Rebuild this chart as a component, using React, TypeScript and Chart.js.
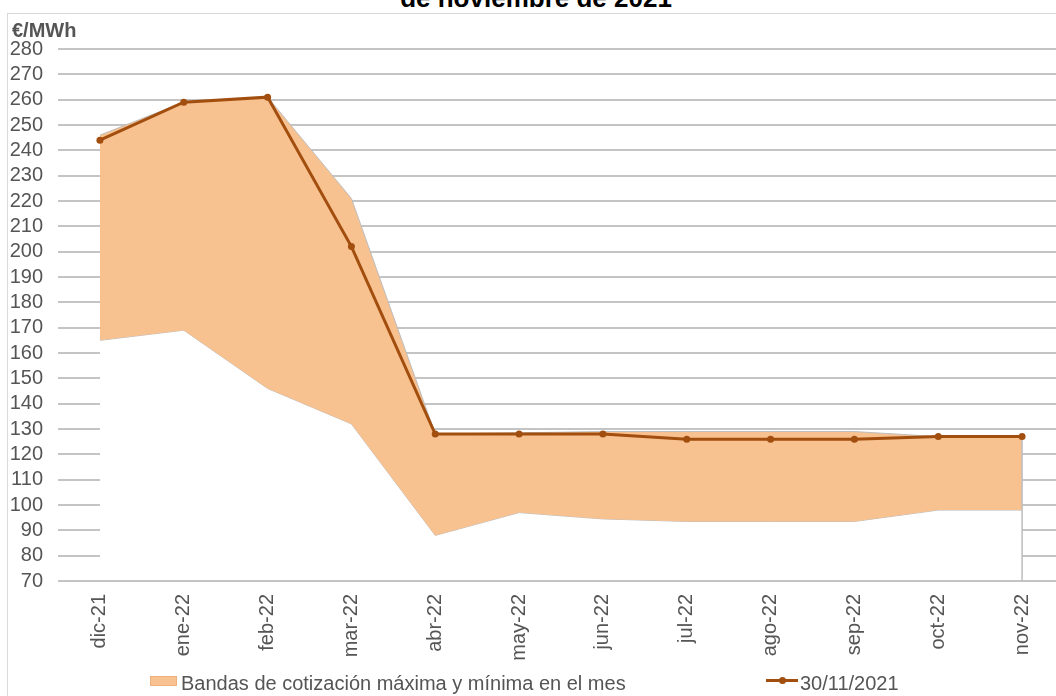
import React, { useEffect, useRef } from 'react';
import { Chart, registerables } from 'chart.js';

Chart.register(...registerables);

const months = ['dic-21', 'ene-22', 'feb-22', 'mar-22', 'abr-22', 'may-22', 'jun-22', 'jul-22', 'ago-22', 'sep-22', 'oct-22', 'nov-22'];
const forward = [244, 259, 261, 202, 128, 128, 128, 126, 126, 126, 127, 127];
const bandMax = [246, 259, 261, 221, 128, 128.5, 129, 129, 129, 129, 127, 127];
const bandMin = [165, 169, 146, 132, 88, 97, 94.5, 93.5, 93.5, 93.5, 98, 98];
const yMin = 70;
const yMax = 280;
const yStep = 10;

const titleText = 'de noviembre de 2021';
const unitText = '€/MWh';
const bandLabel = 'Bandas de cotización máxima y mínima en el mes';
const lineLabel = '30/11/2021';

const ORANGE = '#F8C190';
const BROWN = '#A24E0E';
const TEXT = '#555555';
const GRID = '#c4c4c4';
const EDGE = '#bdbdbd';
const FONT = '"Liberation Sans", Arial, Helvetica, sans-serif';

export default function App() {
  const ref = useRef<HTMLCanvasElement>(null);

  useEffect(() => {
    if (!ref.current) return;
    const edgePlugin = {
      id: 'bandEdge',
      beforeDatasetDraw(chart: any, args: any) {
        if (args.index !== 0) return;
        const last = months.length - 1;
        const x = chart.scales.x.getPixelForValue(last);
        const yTop = chart.scales.y.getPixelForValue(bandMax[last]);
        const yBot = chart.scales.y.getPixelForValue(yMin);
        const ctx = chart.ctx;
        ctx.save();
        ctx.strokeStyle = EDGE;
        ctx.lineWidth = 1.5;
        ctx.beginPath();
        ctx.moveTo(x, yTop);
        ctx.lineTo(x, yBot);
        ctx.stroke();
        ctx.restore();
      },
    };

    const chart = new Chart(ref.current, {
      type: 'line',
      data: {
        labels: months,
        datasets: [
          {
            label: lineLabel,
            data: forward,
            borderColor: BROWN,
            backgroundColor: BROWN,
            borderWidth: 3,
            pointRadius: 3.5,
            pointBackgroundColor: BROWN,
            pointBorderWidth: 0,
            fill: false,
            tension: 0,
            order: 0,
          },
          {
            label: bandLabel,
            data: bandMax,
            borderColor: EDGE,
            borderWidth: 1,
            pointRadius: 0,
            backgroundColor: ORANGE,
            fill: 2,
            tension: 0,
            order: 1,
          },
          {
            label: 'min',
            data: bandMin,
            borderColor: EDGE,
            borderWidth: 1,
            pointRadius: 0,
            backgroundColor: '#ffffff',
            fill: { value: yMin + 0.6 },
            tension: 0,
            order: 2,
          },
        ],
      },
      options: {
        responsive: false,
        animation: false,
        devicePixelRatio: 1,
        layout: { padding: { top: 49, left: 0, right: 0, bottom: 0 } },
        plugins: {
          legend: { display: false },
          title: { display: false },
          tooltip: { enabled: false },
        },
        scales: {
          x: {
            offset: true,
            grid: { display: false, drawTicks: false },
            border: { display: false },
            ticks: {
              autoSkip: false,
              minRotation: 90,
              maxRotation: 90,
              padding: 13,
              color: TEXT,
              font: { family: FONT, size: 20 },
            },
            afterFit: (s: any) => {
              s.height = 115;
            },
          },
          y: {
            min: yMin,
            max: yMax,
            ticks: {
              stepSize: yStep,
              autoSkip: false,
              padding: 15,
              color: TEXT,
              font: { family: FONT, size: 20 },
            },
            grid: { color: GRID, lineWidth: 2, drawTicks: false },
            border: { display: false },
            afterFit: (s: any) => {
              s.width = 58;
            },
          },
        },
      },
      plugins: [edgePlugin],
    } as any);

    return () => chart.destroy();
  }, []);

  return (
    <div
      style={{
        position: 'fixed',
        left: 0,
        top: 0,
        width: 1056,
        height: 696,
        overflow: 'hidden',
        background: '#ffffff',
        fontFamily: FONT,
      }}
    >
      <div
        style={{
          position: 'absolute',
          left: 7,
          top: 13,
          width: 1200,
          height: 800,
          border: '1px solid #d9d9d9',
        }}
      />
      <div
        style={{
          position: 'absolute',
          left: 0,
          top: -15,
          width: 1072,
          textAlign: 'center',
          fontSize: 26,
          lineHeight: '26px',
          fontWeight: 'bold',
          color: '#000000',
          whiteSpace: 'nowrap',
        }}
      >
        {titleText}
      </div>
      <canvas ref={ref} width={1068} height={696} style={{ position: 'absolute', left: 0, top: 0, width: 1068, height: 696 }} />
      <div
        style={{
          position: 'absolute',
          left: 12,
          top: 20,
          fontSize: 20,
          lineHeight: '20px',
          fontWeight: 'bold',
          color: TEXT,
          whiteSpace: 'nowrap',
        }}
      >
        {unitText}
      </div>
      <div
        style={{
          position: 'absolute',
          left: 150,
          top: 676,
          width: 25,
          height: 8,
          background: ORANGE,
          border: '1px solid #eeb07c',
        }}
      />
      <div
        style={{
          position: 'absolute',
          left: 181,
          top: 673,
          fontSize: 20,
          lineHeight: '20px',
          color: TEXT,
          whiteSpace: 'nowrap',
        }}
      >
        {bandLabel}
      </div>
      <div style={{ position: 'absolute', left: 766, top: 679, width: 32, height: 3, background: BROWN }} />
      <div
        style={{
          position: 'absolute',
          left: 779,
          top: 677,
          width: 7,
          height: 7,
          borderRadius: '50%',
          background: BROWN,
        }}
      />
      <div
        style={{
          position: 'absolute',
          left: 800,
          top: 673,
          fontSize: 20,
          lineHeight: '20px',
          color: TEXT,
          whiteSpace: 'nowrap',
        }}
      >
        {lineLabel}
      </div>
    </div>
  );
}
